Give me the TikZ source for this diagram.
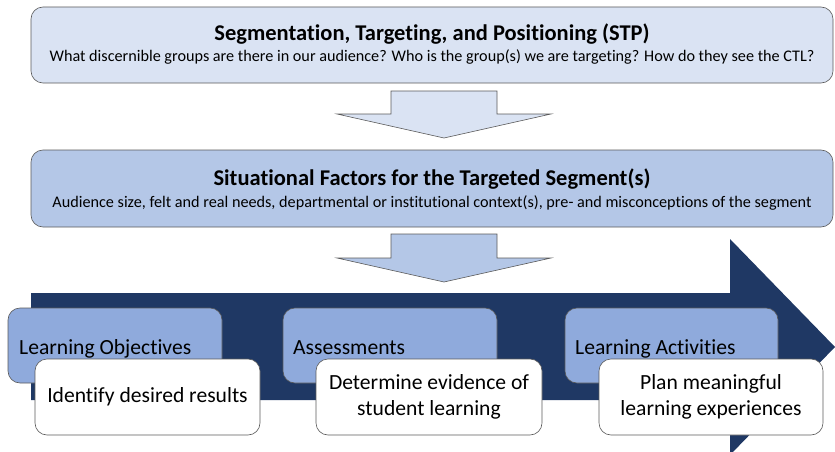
\documentclass[tikz,border=0pt]{standalone}
\usepackage{fontspec}
\setmainfont{Carlito}[Ligatures=NoCommon]
\definecolor{palebox}{HTML}{DAE3F3}
\definecolor{midbox}{HTML}{B4C7E7}
\definecolor{stepblue}{HTML}{8FAADC}
\definecolor{navy}{HTML}{1F3864}
\definecolor{edgegray}{HTML}{5A5A5A}
\begin{document}
\begin{tikzpicture}[x=1pt,y=-1pt,
	panel/.style={draw=edgegray,semithick,rounded corners=12pt,inner sep=0pt},
	headtext/.style={anchor=base,inner sep=0pt,font=\bfseries\fontsize{22.5}{26}\selectfont},
	subtext/.style={anchor=base,inner sep=0pt,font=\fontsize{16.2}{19}\selectfont},
	stagetext/.style={anchor=base west,inner sep=0pt,font=\fontsize{21.6}{26}\selectfont},
	tasktext/.style={inner sep=0pt,align=center,font=\fontsize{21.6}{26}\selectfont},
	downarrow/.style={draw=edgegray,semithick}]
\useasboundingbox (0,0) rectangle (835,452);
	% top two bands
	\node[panel,fill=palebox,minimum width=802pt,minimum height=76pt] (stp) at (432,45) {};
	\node[headtext] (stphead) at (432,41) {Segmentation, Targeting, and Positioning (STP)};
	\node[subtext] (stpsub) at (432,62) {What discernible groups are there in our audience? Who is the group(s) we are targeting? How do they see the CTL?};
	\draw[downarrow,fill=palebox] (391,91) -- (497,91) -- (497,114) -- (551,114) -- (444,138) -- (337,114) -- (391,114) -- cycle;
	\node[panel,fill=midbox,minimum width=802pt,minimum height=77pt] (sit) at (432,188.5) {};
	\node[headtext] (sithead) at (432,185) {Situational Factors for the Targeted Segment(s)};
	\node[subtext] (sitsub) at (432,207) {Audience size, felt and real needs, departmental or institutional context(s), pre- and misconceptions of the segment};
	\draw[downarrow,fill=midbox] (391,234) -- (497,234) -- (497,258) -- (551,258) -- (444,282) -- (337,258) -- (391,258) -- cycle;
	% big process arrow
	\fill[navy] (31,293) -- (730,293) -- (730,239) -- (835,347) -- (730,455) -- (730,400) -- (31,400) -- cycle;
	% three stages
	\node[panel,fill=stepblue,minimum width=214pt,minimum height=75pt] (obj) at (115,345.5) {};
	\node[stagetext] (objtxt) at (19,354) {Learning Objectives};
	\node[panel,fill=white,minimum width=225pt,minimum height=76pt] (goal) at (147.5,397) {};
	\node[tasktext] (goaltxt) at (goal) {Identify desired results};
	\node[panel,fill=stepblue,minimum width=214pt,minimum height=75pt] (assess) at (390,345.5) {};
	\node[stagetext] (assesstxt) at (293,354) {Assessments};
	\node[panel,fill=white,minimum width=226pt,minimum height=76pt] (evid) at (429,397) {};
	\node[tasktext] (evidtxt) at (evid) {Determine evidence of\\student learning};
	\node[panel,fill=stepblue,minimum width=213pt,minimum height=75pt] (act) at (671.5,345.5) {};
	\node[stagetext] (acttxt) at (575,354) {Learning Activities};
	\node[panel,fill=white,minimum width=224pt,minimum height=76pt] (plan) at (711,397) {};
	\node[tasktext] (plantxt) at (plan) {Plan meaningful\\learning experiences};
\end{tikzpicture}
\end{document}
